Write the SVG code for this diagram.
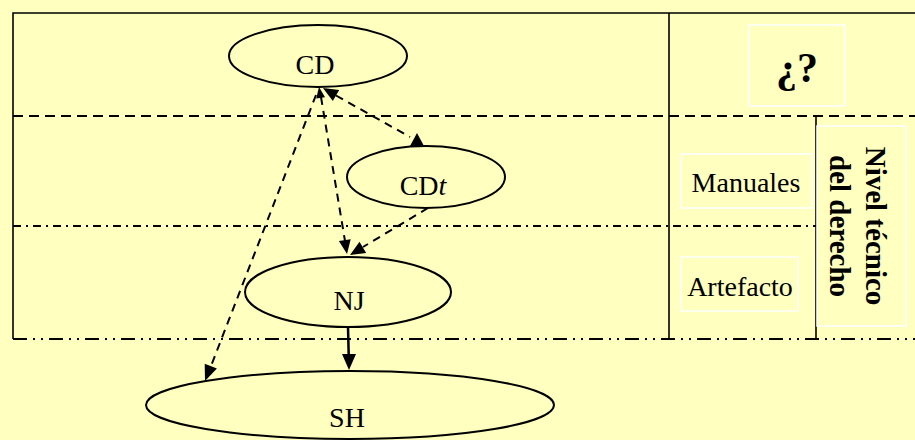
<svg xmlns="http://www.w3.org/2000/svg" width="915" height="440" viewBox="0 0 915 440">
<style>
.bg{fill:#FFFFBF}
.frame{stroke:#000;stroke-width:1.6;fill:none}
.dash{stroke:#000;stroke-width:2;fill:none;stroke-dasharray:10,6}
.dashdot{stroke:#000;stroke-width:1.8;fill:none;stroke-dasharray:8,5,2,5}
.dashdotdot{stroke:#000;stroke-width:2;fill:none;stroke-dasharray:14,6,2,6,2,6}
.wbox{stroke:#fff;stroke-width:1.5;fill:none}
.node{stroke:#000;stroke-width:2;fill:none}
.conn{stroke:#000;stroke-width:2;fill:none;stroke-dasharray:8,6}
.solid{stroke:#000;stroke-width:2.5;fill:none}
.head{fill:#000;stroke:none}
text{font-family:"Liberation Serif","Times New Roman",serif;fill:#000}
.lbl{font-size:28px;text-anchor:middle}
.bold{font-weight:bold}
</style>
<rect class="bg" x="0" y="0" width="915" height="440"/>

<g id="frame">
<polyline class="frame" points="915,13 13,13 13,339"/>
<line class="frame" x1="669" y1="13" x2="669" y2="339"/>
<line class="frame" x1="816" y1="116" x2="816" y2="340"/>
<line class="dash" x1="13" y1="116" x2="915" y2="116"/>
<line class="dashdot" x1="13" y1="226" x2="816" y2="226"/>
<line class="dashdotdot" x1="13" y1="339" x2="915" y2="339"/>
</g>

<g id="label-q">
<rect class="wbox" x="749" y="25" width="96" height="81"/>
<text class="lbl bold" x="797" y="82" font-size="42" style="font-size:42px">¿?</text>
</g>
<g id="label-manuales">
<rect class="wbox" x="681" y="154" width="131" height="54"/>
<text class="lbl" x="746" y="192">Manuales</text>
</g>
<g id="label-artefacto">
<rect class="wbox" x="681" y="257" width="117" height="54"/>
<text class="lbl" x="740" y="296">Artefacto</text>
</g>
<g id="label-nivel">
<rect class="wbox" x="817" y="126" width="89" height="200"/>
<text class="lbl bold" transform="translate(866,226) rotate(90)" style="font-size:29px"><tspan x="0" y="0">Nivel técnico</tspan><tspan x="0" y="36">del derecho</tspan></text>
</g>

<g id="node-CD">
<ellipse class="node" cx="318" cy="56" rx="89" ry="31"/>
<text class="lbl" x="315" y="74">CD</text>
</g>
<g id="node-CDt">
<ellipse class="node" cx="426" cy="177" rx="79" ry="31"/>
<text class="lbl" x="423" y="195">CD<tspan font-style="italic">t</tspan></text>
</g>
<g id="node-NJ">
<ellipse class="node" cx="348" cy="292" rx="103" ry="35"/>
<text class="lbl" x="349" y="310">NJ</text>
</g>
<g id="node-SH">
<ellipse class="node" cx="350" cy="405" rx="204" ry="34"/>
<text class="lbl" x="347" y="427">SH</text>
</g>

<g id="connectors">
<line class="conn" x1="336" y1="95.5" x2="410" y2="137"/>
<polygon class="head" points="323,88 339.2,89.9 332.8,101.1"/>
<polygon class="head" points="417,133 424,146 410,146"/>

<line class="conn" x1="321" y1="97" x2="345" y2="241"/>
<polygon class="head" points="319,87 325,97.2 316.2,98.6"/>
<polygon class="head" points="347,254 350.7,239.3 338.9,241.1"/>

<line class="conn" x1="428" y1="208" x2="363" y2="247"/>
<polygon class="head" points="350,255 366.2,252.9 359.5,241.7"/>

<line class="conn" x1="316" y1="95" x2="211" y2="366"/>
<polygon class="head" points="205,381 216.9,368.4 204.7,363.8"/>

<line class="solid" x1="348" y1="327" x2="348.7" y2="355"/>
<polygon class="head" points="349,370 356,354 342,354"/>
</g>
</svg>
